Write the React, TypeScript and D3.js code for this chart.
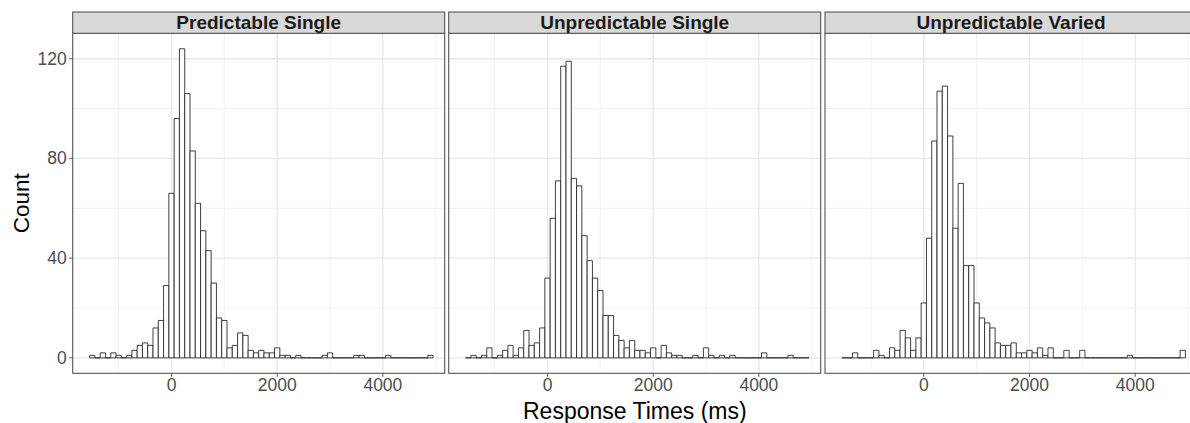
import React from "react";
import * as d3 from "d3";

// ---- Data ----
const panelTitles = ["Predictable Single", "Unpredictable Single", "Unpredictable Varied"];
// histogram bins: width 100 ms, first bin starts at -1550 ms
const binStart = -1550;
const binWidth = 100;
// counts per bin (bin centres -1500 ... 4800)
const countsPredictableSingle = [
  1, 0, 2, 0, 2, 1, 0, 1, 3, 5, 6, 5, 12, 15, 29,
  66, 96, 124, 106, 83, 62, 51, 43, 30, 16, 15, 4, 5, 10, 9,
  3, 2, 3, 2, 2, 4, 1, 1, 0, 1, 0, 0, 0, 0, 1,
  2, 0, 0, 0, 0, 1, 1, 0, 0, 0, 0, 1, 0, 0, 0,
  0, 0, 0, 0, 1,
];
const countsUnpredictableSingle = [
  0, 1, 0, 1, 4, 0, 1, 3, 5, 1, 4, 11, 5, 6, 12,
  32, 56, 71, 117, 119, 72, 69, 49, 39, 32, 27, 17, 17, 9, 7,
  4, 7, 3, 3, 2, 4, 0, 5, 2, 1, 1, 0, 0, 1, 0,
  4, 1, 0, 1, 0, 1, 0, 0, 0, 0, 0, 2, 0, 0, 0,
  0, 1, 0, 0, 0,
];
const countsUnpredictableVaried = [
  0, 0, 2, 0, 0, 0, 3, 1, 0, 4, 3, 11, 8, 3, 8,
  22, 48, 87, 107, 109, 89, 52, 70, 37, 37, 22, 16, 14, 12, 6,
  5, 5, 6, 2, 2, 3, 2, 4, 1, 4, 0, 0, 3, 0, 0,
  3, 0, 0, 0, 0, 0, 0, 0, 0, 1, 0, 0, 0, 0, 0,
  0, 0, 0, 0, 3,
];
const panelCounts = [countsPredictableSingle, countsUnpredictableSingle, countsUnpredictableVaried];
const xMajorTicks = [0, 2000, 4000];
const xMinorTicks = [-1000, 1000, 3000, 5000];
const yMajorTicks = [0, 40, 80, 120];
const yMinorTicks = [20, 60, 100];
const xDomain = [-1870, 5170];
const yDomain = [-6.2, 130.2];

// ---- Layout ----
const W = 1190;
const H = 423;
const panelLefts = [72.7, 448.7, 825];
const panelWidth = 372;
const stripTop = 12;
const panelTop = 33.3;
const panelBottom = 373.3;
const font = "'Liberation Sans', Arial, Helvetica, sans-serif";

function Panel({ idx }: { idx: number }) {
  const left = panelLefts[idx];
  const x = d3.scaleLinear().domain(xDomain).range([left, left + panelWidth]);
  const y = d3.scaleLinear().domain(yDomain).range([panelBottom, panelTop]);
  const counts = panelCounts[idx];
  const clipId = `clip${idx}`;
  return (
    <g>
      <defs>
        <clipPath id={clipId}>
          <rect x={left} y={panelTop} width={panelWidth} height={panelBottom - panelTop} />
        </clipPath>
      </defs>
      <rect x={left} y={panelTop} width={panelWidth} height={panelBottom - panelTop} fill="white" />
      <g clipPath={`url(#${clipId})`}>
        {xMinorTicks.map((t) => (
          <line key={"xm" + t} x1={x(t)} x2={x(t)} y1={panelTop} y2={panelBottom} stroke="#ededed" strokeWidth={0.8} />
        ))}
        {yMinorTicks.map((t) => (
          <line key={"ym" + t} x1={left} x2={left + panelWidth} y1={y(t)} y2={y(t)} stroke="#ededed" strokeWidth={0.8} />
        ))}
        {xMajorTicks.map((t) => (
          <line key={"xM" + t} x1={x(t)} x2={x(t)} y1={panelTop} y2={panelBottom} stroke="#e8e8e8" strokeWidth={1.3} />
        ))}
        {yMajorTicks.map((t) => (
          <line key={"yM" + t} x1={left} x2={left + panelWidth} y1={y(t)} y2={y(t)} stroke="#e8e8e8" strokeWidth={1.3} />
        ))}
        {counts.map((c, i) => {
          const x0 = x(binStart + i * binWidth);
          const x1 = x(binStart + (i + 1) * binWidth);
          const y0 = y(0);
          const yc = y(c);
          return (
            <path
              key={i}
              d={`M${x0},${y0}V${yc}H${x1}V${y0}Z`}
              fill="white"
              stroke="#2a2a2a"
              strokeWidth={0.9}
            />
          );
        })}
      </g>
      <rect x={left} y={panelTop} width={panelWidth} height={panelBottom - panelTop} fill="none" stroke="#555" strokeWidth={1.1} />
      {/* strip */}
      <rect x={left} y={stripTop} width={panelWidth} height={panelTop - stripTop} fill="#d9d9d9" stroke="#555" strokeWidth={1.1} />
      <text
        x={left + panelWidth / 2}
        y={(stripTop + panelTop) / 2 + 6.8}
        textAnchor="middle"
        fontFamily={font}
        fontWeight="bold"
        fontSize={19}
        fill="#1a1a1a"
      >
        {panelTitles[idx]}
      </text>
      {/* x axis */}
      {xMajorTicks.map((t) => (
        <g key={"xt" + t}>
          <line x1={x(t)} x2={x(t)} y1={panelBottom} y2={panelBottom + 3.5} stroke="#555" strokeWidth={1} />
          <text x={x(t)} y={391} textAnchor="middle" fontFamily={font} fontSize={17.5} fill="#4d4d4d">
            {t}
          </text>
        </g>
      ))}
      {/* y axis on first panel */}
      {idx === 0 &&
        yMajorTicks.map((t) => (
          <g key={"yt" + t}>
            <line x1={left - 3.5} x2={left} y1={y(t)} y2={y(t)} stroke="#555" strokeWidth={1} />
            <text x={left - 6} y={y(t) + 6} textAnchor="end" fontFamily={font} fontSize={17.5} fill="#4d4d4d">
              {t}
            </text>
          </g>
        ))}
    </g>
  );
}

export default function App() {
  return (
    <svg
      width={W}
      height={H}
      style={{ position: "absolute", left: 0, top: 0, background: "white" }}
    >
      <rect x={0} y={0} width={W} height={H} fill="white" />
      {panelTitles.map((_, i) => (
        <Panel key={i} idx={i} />
      ))}
      <text
        x={(panelLefts[0] + panelLefts[2] + panelWidth) / 2}
        y={419}
        textAnchor="middle"
        fontFamily={font}
        fontSize={23}
        fill="black"
      >
        Response Times (ms)
      </text>
      <text
        transform={`translate(28.5, ${(panelTop + panelBottom) / 2}) rotate(-90)`}
        textAnchor="middle"
        fontFamily={font}
        fontSize={22.5}
        fill="black"
      >
        Count
      </text>
    </svg>
  );
}
